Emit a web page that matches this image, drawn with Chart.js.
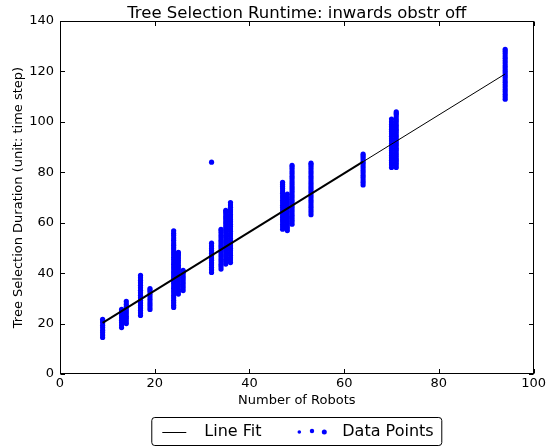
<!DOCTYPE html>
<html>
<head>
<meta charset="utf-8">
<script src="https://cdn.jsdelivr.net/npm/chart.js@4/dist/chart.umd.min.js"></script>
<style>
  html, body { margin: 0; padding: 0; background: #fff; }
  #wrap { width: 548px; height: 447px; }
</style>
</head>
<body>
<div id="wrap"><canvas id="chart" width="548" height="447"></canvas></div>
<script>
// Robot team sizes that were simulated
const robotCounts = [9, 13, 14, 17, 19, 24, 25, 26, 32, 34, 35, 36, 47, 48, 49, 53, 64, 70, 71, 94];

// Measured tree selection durations (time steps), one list per team size
const runtimeSamples = [
  [14.5, 15.5, 16.5, 17.4, 18.4, 19.3, 20.3, 21.0, 21.7],
  [18.4, 19.4, 20.4, 21.3, 22.3, 23.2, 24.2, 25.0, 25.6],
  [20.0, 21.0, 22.0, 22.9, 23.9, 24.8, 25.8, 26.7, 27.7, 28.8],
  [23.2, 24.2, 25.2, 26.2, 27.2, 28.2, 29.2, 30.2, 31.2, 32.2, 33.2, 34.2, 35.2, 36.2, 37.2, 38.2, 39.1],
  [25.6, 26.6, 27.6, 28.6, 29.6, 30.6, 31.6, 32.6, 33.3, 33.9],
  [26.4, 27.3, 28.3, 29.2, 30.2, 31.1, 32.1, 33.0, 34.0, 34.9, 35.9, 36.8, 37.8, 38.7, 39.7, 40.6, 41.6,
   42.5, 43.5, 44.4, 45.4, 46.3, 47.3, 48.2, 49.2, 50.1, 51.1, 52.0, 53.0, 53.9, 54.9, 55.8, 56.8],
  [31.7, 32.7, 33.6, 34.6, 35.5, 36.5, 37.4, 38.4, 39.3, 40.3, 41.2, 42.2, 43.1, 44.1, 45.0, 46.0, 46.9, 47.6, 48.2],
  [33.1, 34.1, 35.0, 36.0, 36.9, 37.9, 38.8, 39.8, 40.5, 41.1],
  [40.3, 41.3, 42.2, 43.2, 44.1, 45.1, 46.0, 47.0, 47.9, 48.9, 49.8, 50.8, 51.9, 84.0],
  [41.6, 42.6, 43.5, 44.5, 45.4, 46.4, 47.3, 48.3, 49.2, 50.2, 51.1, 52.1, 53.0, 54.0, 54.9, 55.9, 56.7, 57.4],
  [43.6, 44.6, 45.5, 46.5, 47.4, 48.4, 49.3, 50.3, 51.2, 52.2, 53.1, 54.1, 55.0, 56.0, 56.9, 57.9, 58.8,
   59.8, 60.7, 61.7, 62.6, 63.6, 64.3, 64.9],
  [44.2, 45.2, 46.1, 47.1, 48.0, 49.0, 49.9, 50.9, 51.8, 52.8, 53.7, 54.7, 55.6, 56.6, 57.5, 58.5, 59.4,
   60.4, 61.3, 62.3, 63.2, 64.2, 65.1, 66.1, 67.0, 68.0],
  [57.4, 58.4, 59.3, 60.3, 61.2, 62.2, 63.1, 64.1, 65.0, 66.0, 66.9, 67.9, 68.8, 69.8, 70.7, 71.7, 72.6,
   73.6, 74.5, 75.3, 76.0],
  [56.9, 57.9, 58.8, 59.8, 60.7, 61.7, 62.6, 63.6, 64.5, 65.5, 66.4, 67.4, 68.3, 69.3, 70.2, 71.3],
  [59.4, 60.4, 61.3, 62.3, 63.2, 64.2, 65.1, 66.1, 67.0, 68.0, 68.9, 69.9, 70.8, 71.8, 72.7, 73.7, 74.6,
   75.6, 76.5, 77.5, 78.4, 79.4, 80.3, 81.3, 82.1, 82.8],
  [63.2, 64.2, 65.1, 66.1, 67.0, 68.0, 68.9, 69.9, 70.8, 71.8, 72.7, 73.7, 74.6, 75.6, 76.5, 77.5, 78.4,
   79.4, 80.3, 81.3, 82.2, 83.0, 83.6],
  [75.0, 76.0, 76.9, 77.9, 78.8, 79.8, 80.7, 81.7, 82.6, 83.6, 84.5, 85.5, 86.4, 87.2],
  [81.9, 82.9, 83.8, 84.8, 85.7, 86.7, 87.6, 88.6, 89.5, 90.5, 91.4, 92.4, 93.3, 94.3, 95.2, 96.2, 97.1,
   98.1, 99.0, 100.0, 101.1],
  [81.9, 82.9, 83.8, 84.8, 85.7, 86.7, 87.6, 88.6, 89.5, 90.5, 91.4, 92.4, 93.3, 94.3, 95.2, 96.2, 97.1,
   98.1, 99.0, 100.0, 100.9, 101.9, 102.8, 103.4, 104.0],
  [109.0, 110.0, 110.9, 111.9, 112.8, 113.8, 114.7, 115.7, 116.6, 117.6, 118.5, 119.5, 120.4, 121.4,
   122.3, 123.3, 124.2, 125.2, 126.1, 127.1, 128.0, 128.8]
];

// Least-squares fit line, sampled at its ends and at 64 robots
const fitX = [9, 64, 94];
const fitY = [20.3, 84.2, 119.0];

// Axis ticks
const xTicks = [0, 20, 40, 60, 80, 100];
const yTicks = [0, 20, 40, 60, 80, 100, 120, 140];

const TITLE = 'Tree Selection Runtime: inwards obstr off';
const FONT = "'DejaVu Sans', 'Liberation Sans', sans-serif";

const scatterPoints = [];
robotCounts.forEach((n, i) => {
  runtimeSamples[i].forEach(v => scatterPoints.push({ x: n, y: v }));
});
const fitPoints = fitX.map((x, i) => ({ x, y: fitY[i] }));

// Title centred over the plotting area
const plotTitle = {
  id: 'plotTitle',
  afterDraw(chart) {
    const { ctx, chartArea: a } = chart;
    ctx.save();
    ctx.fillStyle = '#000';
    ctx.font = '16.5px ' + FONT;
    ctx.textAlign = 'center';
    ctx.textBaseline = 'alphabetic';
    ctx.fillText(TITLE, (a.left + a.right) / 2, a.top - 3);
    ctx.restore();
  }
};

// Inward tick marks on all four sides plus the axes frame
const frameAndTicks = {
  id: 'frameAndTicks',
  afterDraw(chart) {
    const { ctx, chartArea: a, scales } = chart;
    const L = Math.round(a.left) + 0.5, R = Math.round(a.right) - 0.5;
    const T = Math.round(a.top) + 0.5, B = Math.round(a.bottom) - 0.5;
    const len = 4.5;
    ctx.save();
    ctx.strokeStyle = '#000';
    ctx.lineWidth = 1;
    ctx.beginPath();
    xTicks.forEach(v => {
      const px = Math.round(scales.x.getPixelForValue(v)) + 0.5;
      ctx.moveTo(px, B); ctx.lineTo(px, B - len);
      ctx.moveTo(px, T); ctx.lineTo(px, T + len);
    });
    yTicks.forEach(v => {
      const py = Math.round(scales.y.getPixelForValue(v)) + 0.5;
      ctx.moveTo(L, py); ctx.lineTo(L + len, py);
      ctx.moveTo(R, py); ctx.lineTo(R - len, py);
    });
    ctx.stroke();
    ctx.strokeRect(L, T, R - L, B - T);
    ctx.restore();
  }
};

// Framed legend beneath the x axis title
const bottomLegend = {
  id: 'bottomLegend',
  afterDraw(chart) {
    const { ctx, chartArea: a } = chart;
    const cx = (a.left + a.right) / 2;
    const top = chart.height - 29.5;
    const h = 28;
    const left = cx - 145, w = 290;
    const cy = top + h / 2;
    ctx.save();
    const r = 3;
    ctx.beginPath();
    ctx.moveTo(left + r, top);
    ctx.lineTo(left + w - r, top);
    ctx.arcTo(left + w, top, left + w, top + r, r);
    ctx.lineTo(left + w, top + h - r);
    ctx.arcTo(left + w, top + h, left + w - r, top + h, r);
    ctx.lineTo(left + r, top + h);
    ctx.arcTo(left, top + h, left, top + h - r, r);
    ctx.lineTo(left, top + r);
    ctx.arcTo(left, top, left + r, top, r);
    ctx.closePath();
    ctx.fillStyle = '#fff';
    ctx.fill();
    ctx.strokeStyle = '#000';
    ctx.lineWidth = 1;
    ctx.stroke();
    // line sample
    ctx.beginPath();
    ctx.moveTo(cx - 134.5, Math.round(cy) + 0.5);
    ctx.lineTo(cx - 110.5, Math.round(cy) + 0.5);
    ctx.stroke();
    // scatter sample
    ctx.fillStyle = '#0000ff';
    [[2.5, 1.8], [15.2, 2.2], [27.5, 2.5]].forEach(([dx, rad], i) => {
      ctx.beginPath();
      ctx.arc(cx + dx, cy + (i === 1 ? -0.5 : 0.5), rad, 0, Math.PI * 2);
      ctx.fill();
    });
    // labels
    ctx.fillStyle = '#000';
    ctx.font = '16px ' + FONT;
    ctx.textBaseline = 'middle';
    ctx.textAlign = 'left';
    ctx.fillText('Line Fit', cx - 92.5, cy);
    ctx.fillText('Data Points', cx + 45.5, cy);
    ctx.restore();
  }
};

Chart.defaults.color = '#000';
Chart.defaults.font.family = FONT;

new Chart(document.getElementById('chart'), {
  type: 'scatter',
  data: {
    datasets: [
      {
        type: 'line',
        label: 'Line Fit',
        data: fitPoints,
        borderColor: '#000',
        borderWidth: 1,
        pointRadius: 0,
        fill: false,
        tension: 0,
        order: 0,
        segment: {
          borderWidth: c => (c.p1DataIndex <= 1 ? 2 : 1)
        }
      },
      {
        type: 'scatter',
        label: 'Data Points',
        data: scatterPoints,
        backgroundColor: '#0000ff',
        borderWidth: 0,
        pointRadius: 2.6,
        order: 1
      }
    ]
  },
  options: {
    responsive: false,
    animation: false,
    devicePixelRatio: 1,
    layout: { padding: { left: 0, right: 13, top: 21, bottom: 34 } },
    plugins: {
      legend: { display: false },
      tooltip: { enabled: false },
      title: { display: false }
    },
    scales: {
      x: {
        type: 'linear',
        min: 0,
        max: 100,
        afterBuildTicks: s => { s.ticks = xTicks.map(v => ({ value: v })); },
        afterFit: s => { s.height = 39; },
        grid: { display: false, drawTicks: false },
        border: { display: false },
        ticks: { padding: 2, font: { size: 13, family: FONT }, color: '#000', maxRotation: 0 },
        title: {
          display: true,
          text: 'Number of Robots',
          font: { size: 13, family: FONT },
          color: '#000',
          padding: { top: 0, bottom: 5 }
        }
      },
      y: {
        type: 'linear',
        min: 0,
        max: 140,
        afterBuildTicks: s => { s.ticks = yTicks.map(v => ({ value: v })); },
        afterFit: s => { s.width = 60; },
        grid: { display: false, drawTicks: false },
        border: { display: false },
        ticks: { padding: 6, font: { size: 13, family: FONT }, color: '#000' },
        title: {
          display: true,
          text: 'Tree Selection Duration (unit: time step)',
          font: { size: 13, family: FONT },
          color: '#000',
          padding: { top: 11, bottom: 0 }
        }
      }
    }
  },
  plugins: [plotTitle, frameAndTicks, bottomLegend]
});
</script>
</body>
</html>
